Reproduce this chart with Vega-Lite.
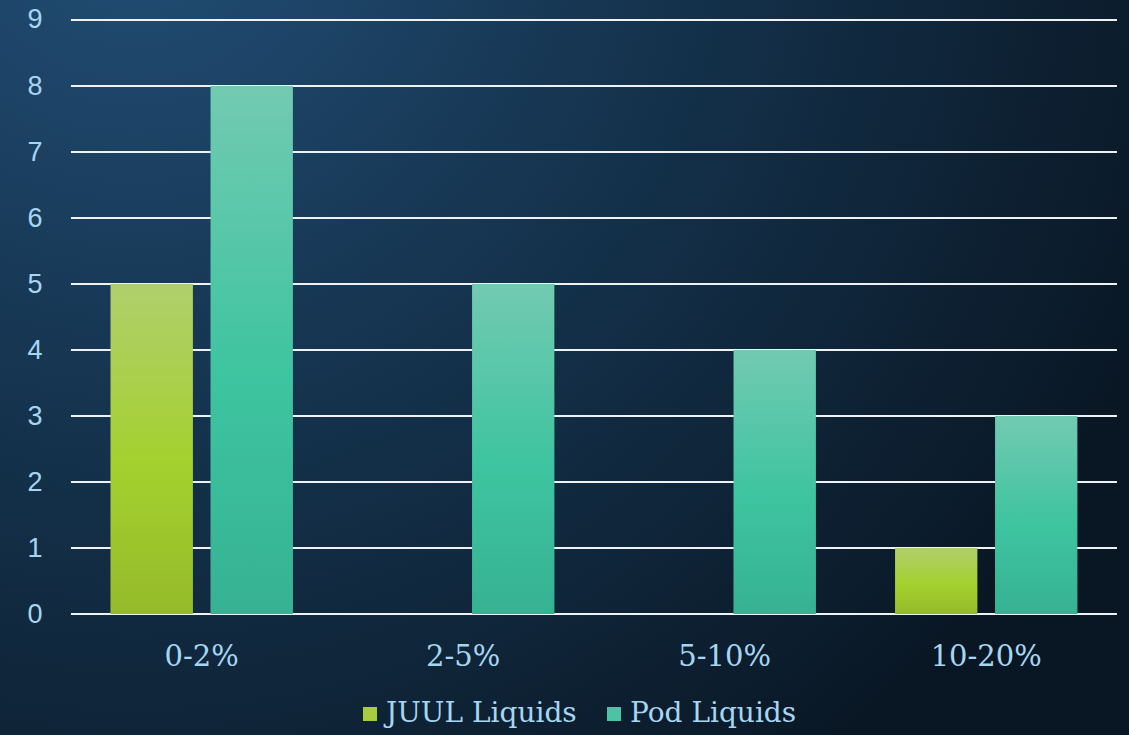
{
  "$schema": "https://vega.github.io/schema/vega-lite/v6.json",
  "width": 1129,
  "height": 735,
  "autosize": {"type": "none"},
  "padding": 0,
  "background": "#0e2236",
  "config": {
    "view": {
      "stroke": null,
      "fill": {"gradient": "radial", "x1": 0.12, "y1": 0.08, "r1": 0, "x2": 0.12, "y2": 0.08, "r2": 1.0,
        "stops": [{"offset": 0, "color": "#234f78"}, {"offset": 0.45, "color": "#15344f"}, {"offset": 1, "color": "#091623"}]}
    }
  },
  "datasets": {
    "bars": [
      {"range": "0-2%", "series": "JUUL Liquids", "count": 5},
      {"range": "0-2%", "series": "Pod Liquids", "count": 8},
      {"range": "2-5%", "series": "JUUL Liquids", "count": 0},
      {"range": "2-5%", "series": "Pod Liquids", "count": 5},
      {"range": "5-10%", "series": "JUUL Liquids", "count": 0},
      {"range": "5-10%", "series": "Pod Liquids", "count": 4},
      {"range": "10-20%", "series": "JUUL Liquids", "count": 1},
      {"range": "10-20%", "series": "Pod Liquids", "count": 3}
    ],
    "grid": [{"v": 0}, {"v": 1}, {"v": 2}, {"v": 3}, {"v": 4}, {"v": 5}, {"v": 6}, {"v": 7}, {"v": 8}, {"v": 9}]
  },
  "layer": [
    {
      "data": {"name": "grid"},
      "mark": {"type": "rule", "color": "#eef2f5", "strokeWidth": 2},
      "encoding": {
        "y": {"field": "v", "type": "quantitative",
          "scale": {"domain": [-1.833, 9.303], "nice": false, "zero": false},
          "axis": {"values": [0, 1, 2, 3, 4, 5, 6, 7, 8, 9], "format": "d", "orient": "left", "offset": -44, "domain": false, "ticks": false, "tickSize": 0, "grid": false, "labelPadding": 2, "labelFont": "Liberation Sans", "labelFontSize": 27, "labelColor": "#a6d6f2", "title": null}},
        "x": {"datum": "0-2%", "type": "nominal", "bandPosition": 0,
          "scale": {"domain": ["0-2%", "2-5%", "5-10%", "10-20%"], "paddingInner": 0, "paddingOuter": 0.1587, "align": 0.855}},
        "x2": {"datum": "10-20%", "bandPosition": 1}
      }
    },
    {
      "data": {"name": "bars"},
      "mark": {"type": "bar"},
      "encoding": {
        "x": {"field": "range", "type": "nominal",
          "scale": {"domain": ["0-2%", "2-5%", "5-10%", "10-20%"], "paddingInner": 0, "paddingOuter": 0.1587, "align": 0.855},
          "axis": {"orient": "bottom", "offset": -121, "bandPosition": 0.5, "domain": false, "ticks": false, "tickSize": 0, "labelPadding": 42, "labelAngle": 0, "labelAlign": "center", "labelFont": "DejaVu Serif", "labelFontSize": 29, "labelColor": "#a6d6f2", "title": null}},
        "xOffset": {"field": "series", "type": "nominal", "scale": {"domain": ["JUUL Liquids", "Pod Liquids"], "paddingInner": 0.18, "paddingOuter": 0.3975}},
        "y": {"field": "count", "type": "quantitative", "stack": null},
        "y2": {"datum": 0},
        "color": {"field": "series", "type": "nominal",
          "scale": {"domain": ["JUUL Liquids", "Pod Liquids"], "range": ["#a8cc3e", "#4cc4a4"]},
          "legend": {"orient": "none", "legendX": 356, "legendY": 700, "direction": "horizontal", "title": null, "symbolType": "square", "symbolSize": 196, "symbolStrokeWidth": 0, "symbolOffset": 0, "labelFont": "DejaVu Serif", "labelFontSize": 28, "labelLimit": 0, "labelColor": "#a6d6f2", "labelOffset": 2, "columnPadding": 23}}
      }
    },
    {
      "data": {"name": "bars"},
      "transform": [{"filter": "datum.series === 'JUUL Liquids'"}],
      "mark": {"type": "bar",
        "color": {"gradient": "linear", "x1": 0, "y1": 0, "x2": 0, "y2": 1, "stops": [{"offset": 0, "color": "#b0cf6c"}, {"offset": 0.55, "color": "#a4d02e"}, {"offset": 1, "color": "#95bb2a"}]}},
      "encoding": {
        "x": {"field": "range", "type": "nominal"},
        "xOffset": {"field": "series", "type": "nominal"},
        "y": {"field": "count", "type": "quantitative", "stack": null},
        "y2": {"datum": 0}
      }
    },
    {
      "data": {"name": "bars"},
      "transform": [{"filter": "datum.series === 'Pod Liquids'"}],
      "mark": {"type": "bar",
        "color": {"gradient": "linear", "x1": 0, "y1": 0, "x2": 0, "y2": 1, "stops": [{"offset": 0, "color": "#72cab1"}, {"offset": 0.55, "color": "#3ec4a0"}, {"offset": 1, "color": "#36b293"}]}},
      "encoding": {
        "x": {"field": "range", "type": "nominal"},
        "xOffset": {"field": "series", "type": "nominal"},
        "y": {"field": "count", "type": "quantitative", "stack": null},
        "y2": {"datum": 0}
      }
    }
  ]
}
